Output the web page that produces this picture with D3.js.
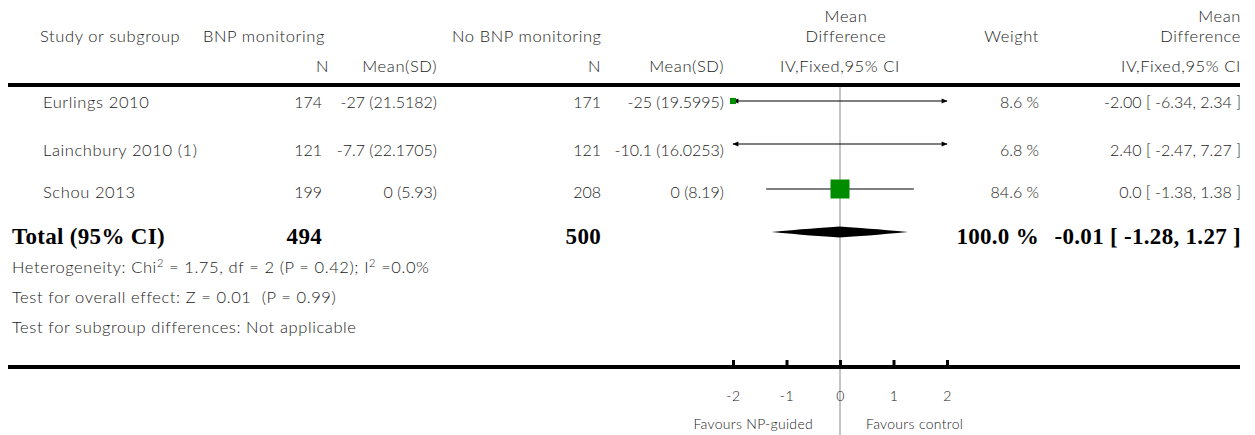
<!DOCTYPE html>
<html>
<head>
<meta charset="utf-8">
<script src="https://cdn.jsdelivr.net/npm/d3@7"></script>
<style>
body { margin:0; background:#fff; }
svg text { font-family: Lato, "Open Sans", sans-serif; font-weight:300; font-size:16.5px; letter-spacing:0.6px; fill:#222; white-space:pre; }
svg text.num { font-size:16px; letter-spacing:0; }
svg text.tot { font-family: "Liberation Serif", "DejaVu Serif", serif; font-weight:bold; font-size:23px; letter-spacing:0.3px; fill:#000; }
</style>
</head>
<body>
<svg id="chart"></svg>
<script>
// study rows
var studies = ["Eurlings 2010", "Lainchbury 2010 (1)", "Schou 2013"];
var bnpN = [174, 121, 199];
var bnpMeanSD = ["-27 (21.5182)", "-7.7 (22.1705)", "0 (5.93)"];
var ctlN = [171, 121, 208];
var ctlMeanSD = ["-25 (19.5995)", "-10.1 (16.0253)", "0 (8.19)"];
var md = [-2.00, 2.40, 0.0];
var ciLo = [-6.34, -2.47, -1.38];
var ciHi = [2.34, 7.27, 1.38];
var weight = [8.6, 6.8, 84.6];
var mdText = ["-2.00 [ -6.34, 2.34 ]", "2.40 [ -2.47, 7.27 ]", "0.0 [ -1.38, 1.38 ]"];
var weightText = ["8.6 %", "6.8 %", "84.6 %"];

// pooled
var totalN = [494, 500];
var totalMD = [-0.01, -1.28, 1.27];
var totalText = ["100.0 %", "-0.01 [ -1.28, 1.27 ]"];

var footnotes = [
  ["Heterogeneity: Chi", "2", " = 1.75, df = 2 (P = 0.42); I", "2", " =0.0%"],
  ["Test for overall effect: Z = 0.01  (P = 0.99)"],
  ["Test for subgroup differences: Not applicable"]
];
var ticks = [-2, -1, 0, 1, 2];
var favours = ["Favours NP-guided", "Favours control"];

var W = 1255, H = 435;
var svg = d3.select("#chart").attr("width", W).attr("height", H);

var x = d3.scaleLinear().domain([-2, 2]).range([733, 947]);
var sq = d3.scaleSqrt().domain([0, 84.6]).range([0, 19]);

var markY = [101, 144, 189];
var textY = [108, 156, 198];
var totY = 232, totTextY = 244;

function txt(t, xx, yy, anchor, cls) {
  return svg.append("text").attr("x", xx).attr("y", yy)
    .attr("text-anchor", anchor || "start").attr("class", cls || null).text(t);
}

// header
txt("Study or subgroup", 40, 42);
txt("BNP monitoring", 203, 42);
txt("No BNP monitoring", 452, 42);
txt("N", 329, 72, "end");
txt("Mean(SD)", 437, 72, "end");
txt("N", 601, 72, "end");
txt("Mean(SD)", 724, 72, "end");
txt("Mean", 846, 22, "middle");
txt("Difference", 846, 42, "middle");
txt("IV,Fixed,95% CI", 840, 72, "middle");
txt("Weight", 1039, 42, "end");
txt("Mean", 1241, 22, "end");
txt("Difference", 1241, 42, "end");
txt("IV,Fixed,95% CI", 1241, 72, "end");

svg.append("rect").attr("x", 8).attr("y", 83).attr("width", 1232).attr("height", 4).attr("fill", "#000");

// zero line
svg.append("line").attr("x1", x(0)).attr("x2", x(0)).attr("y1", 87).attr("y2", H)
  .attr("stroke", "#b0b0b0").attr("stroke-width", 1.5);

// study rows text
studies.forEach(function(s, i) {
  txt(s, 43, textY[i]);
  txt(bnpN[i], 322, textY[i], "end", "num");
  txt(bnpMeanSD[i], 437, textY[i], "end", "num");
  txt(ctlN[i], 601, textY[i], "end", "num");
  txt(ctlMeanSD[i], 724, textY[i], "end", "num");
  txt(weightText[i], 1039, textY[i], "end", "num");
  txt(mdText[i], 1241, textY[i], "end", "num");
});

// CI lines with arrows when off scale
var defs = svg.append("defs");
defs.append("marker").attr("id", "arr").attr("viewBox", "0 0 10 10").attr("refX", 9).attr("refY", 5)
  .attr("markerWidth", 7).attr("markerHeight", 6).attr("markerUnits", "userSpaceOnUse")
  .attr("orient", "auto-start-reverse")
  .append("path").attr("d", "M0,1L10,5L0,9Z").attr("fill", "#000");

var lo = x.domain()[0], hi = x.domain()[1];
studies.forEach(function(s, i) {
  var l = svg.append("line")
    .attr("x1", x(Math.max(ciLo[i], lo))).attr("x2", x(Math.min(ciHi[i], hi)))
    .attr("y1", markY[i]).attr("y2", markY[i])
    .attr("stroke", "#000").attr("stroke-width", 1.2);
  if (ciLo[i] < lo) l.attr("marker-start", "url(#arr)");
  if (ciHi[i] > hi) l.attr("marker-end", "url(#arr)");
});

svg.selectAll("rect.sq")
  .data(md.map(function(d, i) { return {m: d, w: weight[i], y: markY[i]}; })
    .filter(function(d) { return d.m >= lo && d.m <= hi; }))
  .enter().append("rect").attr("class", "sq")
  .attr("x", function(d) { return x(d.m) - sq(d.w) / 2; })
  .attr("y", function(d) { return d.y - sq(d.w) / 2; })
  .attr("width", function(d) { return sq(d.w); })
  .attr("height", function(d) { return sq(d.w); })
  .attr("fill", "#008c00");

// total row
txt("Total (95% CI)", 12, totTextY, "start", "tot");
txt(totalN[0], 322, totTextY, "end", "tot");
txt(totalN[1], 601, totTextY, "end", "tot");
txt(totalText[0], 1039, totTextY, "end", "tot");
txt(totalText[1], 1241, totTextY, "end", "tot");

var dx0 = x(totalMD[1]), dxm = x(totalMD[0]), dx1 = x(totalMD[2]), dh = 5.5;
svg.append("path")
  .attr("d", "M" + dx0 + "," + totY +
    "Q" + (dxm - 25) + "," + (totY - dh + 1.5) + " " + dxm + "," + (totY - dh) +
    "Q" + (dxm + 25) + "," + (totY - dh + 1.5) + " " + dx1 + "," + totY +
    "Q" + (dxm + 25) + "," + (totY + dh - 1.5) + " " + dxm + "," + (totY + dh) +
    "Q" + (dxm - 25) + "," + (totY + dh - 1.5) + " " + dx0 + "," + totY + "Z")
  .attr("fill", "#000");

// footnotes
var fy = [273, 303, 333];
footnotes.forEach(function(parts, i) {
  var t = svg.append("text").attr("x", 12).attr("y", fy[i]);
  parts.forEach(function(p, j) {
    var sp = t.append("tspan").text(p);
    if (parts.length > 1 && j % 2 == 1) sp.attr("dy", -6).style("font-size", "11px");
    else if (j > 0) sp.attr("dy", 6);
  });
});

// axis
svg.append("rect").attr("x", 8).attr("y", 365).attr("width", 1232).attr("height", 4).attr("fill", "#000");
var ax = svg.append("g").attr("transform", "translate(0,367)")
  .call(d3.axisBottom(x).tickValues(ticks).tickSizeInner(-7).tickSizeOuter(0).tickPadding(24)
    .tickFormat(function(d) { return d < 0 ? "-" + Math.abs(d) : d; }));
ax.select(".domain").remove();
ax.selectAll(".tick line").attr("stroke", "#000").attr("stroke-width", 3);
ax.selectAll(".tick text").style("font-family", "Lato, sans-serif").style("font-weight", "300")
  .style("font-size", "14px").attr("fill", "#222");

txt(favours[0], 813, 429, "end").style("font-size", "14px").style("letter-spacing", "0.3px");
txt(favours[1], 866, 429, "start").style("font-size", "14px").style("letter-spacing", "0.3px");
</script>
</body>
</html>
